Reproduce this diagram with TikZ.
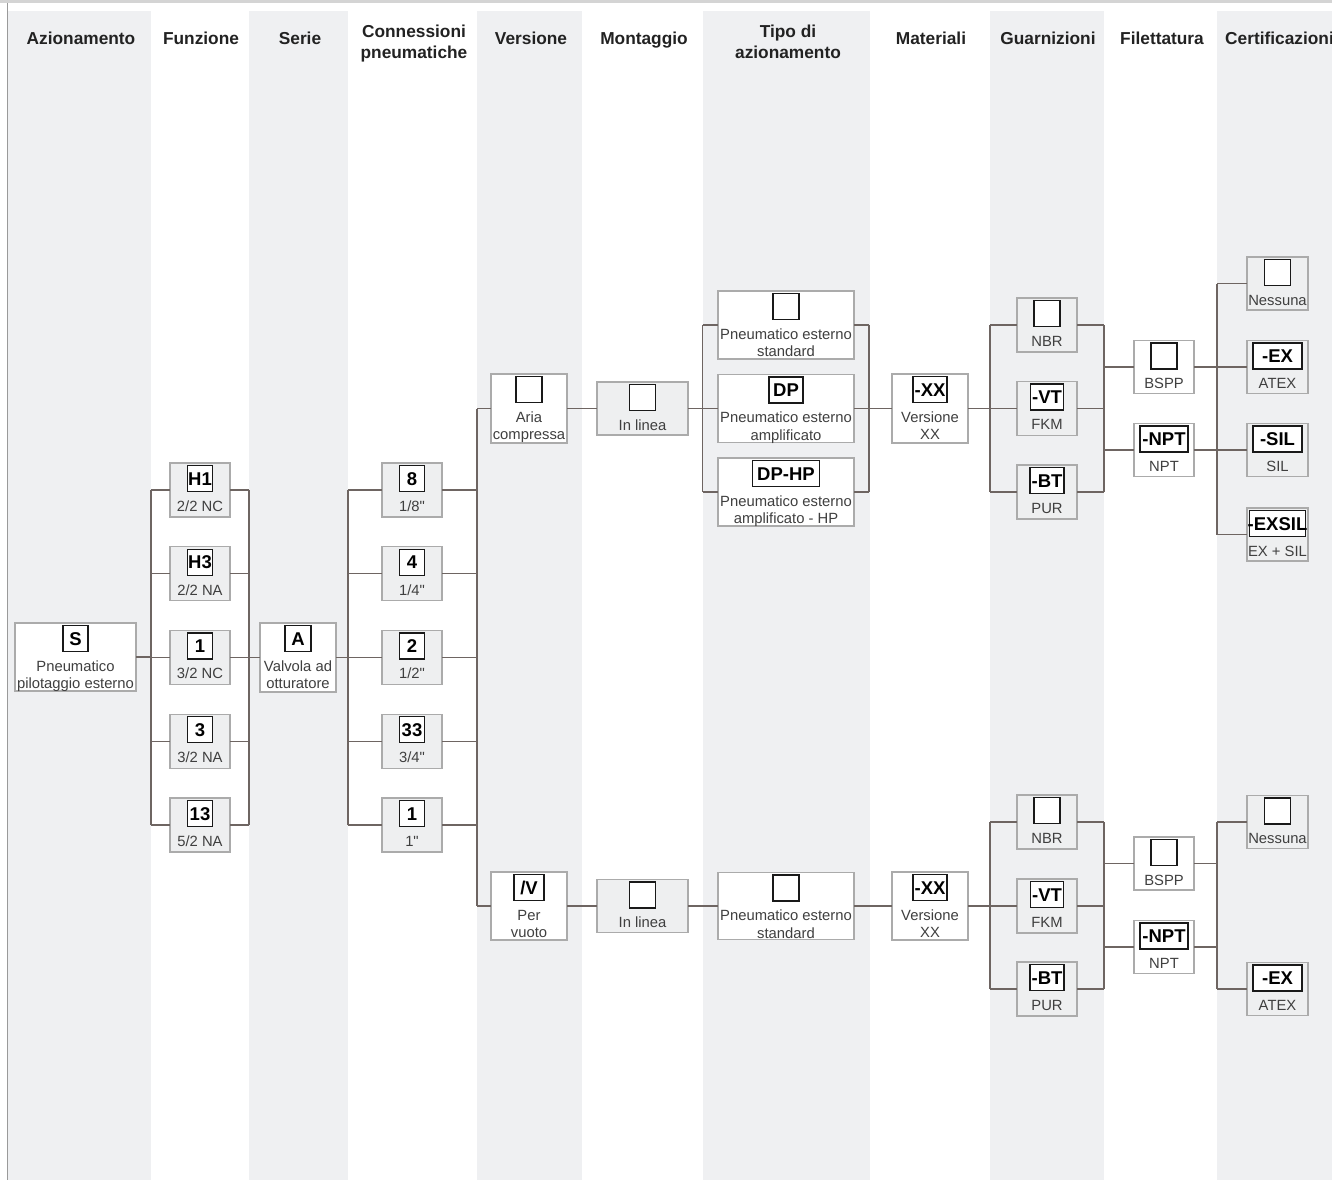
\documentclass[tikz,border=0pt]{standalone}
\usepackage{fontspec}
\setmainfont{Liberation Sans}
\newfontfamily\plainsans{Liberation Sans}
\definecolor{band}{HTML}{EFF0F2}
\definecolor{boxgray}{HTML}{EEEFF0}
\definecolor{boxline}{HTML}{ABABAB}
\definecolor{conncol}{HTML}{6E6562}
\definecolor{subtext}{HTML}{3F3F3F}
\definecolor{hdrtext}{HTML}{222222}
\definecolor{topbar}{HTML}{D4D4D4}
\definecolor{leftline}{HTML}{9A9A9A}
\tikzset{
  box/.style={draw=boxline,line width=1.1pt,outer sep=0pt,inner sep=0pt},
  wbox/.style={fill=white},
  gbox/.style={fill=boxgray},
  codebox/.style={draw=black!90,line width=1.3pt,fill=white,minimum height=26pt,inner xsep=0pt,inner ysep=0pt,outer sep=0pt,text height=13.3pt,text depth=0pt,font=\fontsize{18.5}{20}\selectfont\bfseries,text=black},
  sublabel/.style={inner sep=0pt,align=center,font=\plainsans\fontsize{14.8}{17.5}\selectfont,text=subtext},
  hdr/.style={inner sep=0pt,align=center,font=\fontsize{17.3}{21}\selectfont\bfseries,text=hdrtext},
  conn/.style={draw=conncol,line width=1.3pt},
}
% #1 name, #2 cx, #3 cy, #4 w, #5 h, #6 fill style, #7 code box width, #8 code, #9 label
\newcommand\optbox[9]{%
  \node[box,#6,minimum width=#4pt,minimum height=#5pt] (#1) at (#2,#3) {};
  \node[codebox,minimum width=#7pt,anchor=north] (#1c) at ([yshift=-2.5pt]#1.north) {\makebox[0pt]{#8}};
  \node[sublabel,anchor=north] (#1l) at ([yshift=-7.5pt]#1c.south) {\strut #9};
}
\begin{document}
\begin{tikzpicture}[x=1pt,y=-1pt]
\useasboundingbox (0,0) rectangle (1332,1180);
% background bands
\fill[topbar] (0,0) rectangle (1332,3);
\foreach \a/\b in {8/151,249/348,477/582,703/870,990/1104,1217/1332}
  \fill[band] (\a,11) rectangle (\b,1180);
\draw[leftline,line width=1.2pt] (7.5,3) -- (7.5,1180);
% headers
\node[hdr,anchor=north] (hA) at (81,29.8) {\strut Azionamento};
\node[hdr,anchor=north] (hF) at (201,29.8) {\strut Funzione};
\node[hdr,anchor=north] (hS) at (300,29.8) {\strut Serie};
\node[hdr,anchor=north] (hC) at (414,22.8) {\strut Connessioni\\pneumatiche};
\node[hdr,anchor=north] (hV) at (531,29.8) {\strut Versione};
\node[hdr,anchor=north] (hM) at (644,29.8) {\strut Montaggio};
\node[hdr,anchor=north] (hT) at (788,22.8) {\strut Tipo di\\azionamento};
\node[hdr,anchor=north] (hX) at (931,29.8) {\strut Materiali};
\node[hdr,anchor=north] (hG) at (1048,29.8) {\strut Guarnizioni};
\node[hdr,anchor=north] (hL) at (1162,29.8) {\strut Filettatura};
\node[hdr,anchor=north west] (hK) at (1225,29.8) {\strut Certificazioni};
% boxes
\optbox{S}{75.5}{657}{121}{68}{wbox}{25}{S}{Pneumatico\\pilotaggio esterno}
\optbox{F1}{200}{490}{60}{54}{gbox}{25}{H1}{2/2 NC}
\optbox{F2}{200}{573.75}{60}{54}{gbox}{25}{H3}{2/2 NA}
\optbox{F3}{200}{657.5}{60}{54}{gbox}{25}{1}{3/2 NC}
\optbox{F4}{200}{741.25}{60}{54}{gbox}{25}{3}{3/2 NA}
\optbox{F5}{200}{825}{60}{54}{gbox}{25}{13}{5/2 NA}
\optbox{A}{298}{657.5}{76}{69}{wbox}{26}{A}{Valvola ad\\otturatore}
\optbox{C1}{412}{490}{60}{54}{gbox}{25}{8}{1/8"}
\optbox{C2}{412}{573.75}{60}{54}{gbox}{25}{4}{1/4"}
\optbox{C3}{412}{657.5}{60}{54}{gbox}{25}{2}{1/2"}
\optbox{C4}{412}{741.25}{60}{54}{gbox}{25}{33}{3/4"}
\optbox{C5}{412}{825}{60}{54}{gbox}{25}{1}{1"}
\optbox{V1}{529}{408.5}{76}{69}{wbox}{26}{}{Aria\\compressa}
\optbox{V2}{529}{906}{76}{68}{wbox}{30}{/V}{Per\\vuoto}
\optbox{M1}{642.5}{408.5}{91}{53}{gbox}{26}{}{In linea}
\optbox{M2}{642.5}{906}{91}{53}{gbox}{26}{}{In linea}
\optbox{T1}{786}{325}{136}{68}{wbox}{26}{}{Pneumatico esterno\\standard}
\optbox{T2}{786}{408.5}{136}{68}{wbox}{34}{DP}{Pneumatico esterno\\amplificato}
\optbox{T3}{786}{492}{136}{68}{wbox}{67}{DP-HP}{Pneumatico esterno\\amplificato - HP}
\optbox{T4}{786}{906}{136}{67}{wbox}{26}{}{Pneumatico esterno\\standard}
\optbox{X1}{930}{408.5}{76}{69}{wbox}{34}{-XX}{Versione\\XX}
\optbox{X2}{930}{906}{76}{68}{wbox}{34}{-XX}{Versione\\XX}
\optbox{G1}{1047}{325}{60}{54}{gbox}{26}{}{NBR}
\optbox{G2}{1047}{408.5}{60}{54}{gbox}{33}{-VT}{FKM}
\optbox{G3}{1047}{492}{60}{54}{gbox}{34}{-BT}{PUR}
\optbox{G4}{1047}{822}{60}{54}{gbox}{26}{}{NBR}
\optbox{G5}{1047}{906}{60}{54}{gbox}{33}{-VT}{FKM}
\optbox{G6}{1047}{989}{60}{54}{gbox}{34}{-BT}{PUR}
\optbox{L1}{1164}{367}{60}{53}{wbox}{26}{}{BSPP}
\optbox{L2}{1164}{450}{60}{53}{wbox}{48}{-NPT}{NPT}
\optbox{L3}{1164}{863.5}{60}{53}{wbox}{26}{}{BSPP}
\optbox{L4}{1164}{947}{60}{53}{wbox}{48}{-NPT}{NPT}
\optbox{K1}{1277.5}{283.5}{61}{53}{gbox}{26}{}{Nessuna}
\optbox{K2}{1277.5}{367}{61}{53}{gbox}{49}{-EX}{ATEX}
\optbox{K3}{1277.5}{450}{61}{53}{gbox}{49}{-SIL}{SIL}
\optbox{K4}{1277.5}{534.5}{61}{53}{gbox}{56}{-EXSIL}{EX + SIL}
\optbox{K5}{1277.5}{822}{61}{53}{gbox}{26}{}{Nessuna}
\optbox{K6}{1277.5}{989}{61}{53}{gbox}{49}{-EX}{ATEX}
% bus coordinates
\coordinate (bF1) at (151,0);
\coordinate (bF2) at (249,0);
\coordinate (bC1) at (348,0);
\coordinate (bC2) at (477,0);
\coordinate (bT1) at (702.5,0);
\coordinate (bT2) at (869,0);
\coordinate (bG1) at (990,0);
\coordinate (bG2) at (1104,0);
\coordinate (bK) at (1217,0);
% connectors: Azionamento -> Funzione -> Serie
\draw[conn] (S.east) -- (S.east -| bF1);
\draw[conn] (F1.west -| bF1) -- (F5.west -| bF1);
\draw[conn] (F1.east -| bF2) -- (F5.east -| bF2);
\foreach \i in {1,...,5}{
  \draw[conn] (F\i.west -| bF1) -- (F\i.west);
  \draw[conn] (F\i.east) -- (F\i.east -| bF2);
}
\draw[conn] (A.west -| bF2) -- (A.west);
\draw[conn] (A.east) -- (A.east -| bC1);
% Connessioni
\draw[conn] (C1.west -| bC1) -- (C5.west -| bC1);
\draw[conn] (C1.east -| bC2) -- (C5.east -| bC2);
\foreach \i in {1,...,5}{
  \draw[conn] (C\i.west -| bC1) -- (C\i.west);
  \draw[conn] (C\i.east) -- (C\i.east -| bC2);
}
% Versione
\draw[conn] (V1.west -| bC2) -- (V2.west -| bC2);
\draw[conn] (V1.west -| bC2) -- (V1.west);
\draw[conn] (V2.west -| bC2) -- (V2.west);
% upper branch
\draw[conn] (V1.east) -- (M1.west);
\draw[conn] (M1.east) -- (T2.west);
\draw[conn] (T1.west -| bT1) -- (T3.west -| bT1);
\draw[conn] (T1.east -| bT2) -- (T3.east -| bT2);
\foreach \i in {1,3}{
  \draw[conn] (T\i.west -| bT1) -- (T\i.west);
}
\foreach \i in {1,2,3}{
  \draw[conn] (T\i.east) -- (T\i.east -| bT2);
}
\draw[conn] (X1.west -| bT2) -- (X1.west);
\draw[conn] (X1.east) -- (X1.east -| bG1);
\draw[conn] (G1.west -| bG1) -- (G3.west -| bG1);
\draw[conn] (G1.east -| bG2) -- (G3.east -| bG2);
\foreach \i in {1,2,3}{
  \draw[conn] (G\i.west -| bG1) -- (G\i.west);
  \draw[conn] (G\i.east) -- (G\i.east -| bG2);
}
\draw[conn] (L1.west -| bG2) -- (L1.west);
\draw[conn] (L2.west -| bG2) -- (L2.west);
\draw[conn] (L1.east) -- (L1.east -| bK);
\draw[conn] (L2.east) -- (L2.east -| bK);
\draw[conn] (K1.west -| bK) -- (K4.west -| bK);
\foreach \i in {1,2,3,4}{
  \draw[conn] (K\i.west -| bK) -- (K\i.west);
}
% lower branch
\draw[conn] (V2.east) -- (M2.west);
\draw[conn] (M2.east) -- (T4.west);
\draw[conn] (T4.east) -- (X2.west);
\draw[conn] (X2.east) -- (X2.east -| bG1);
\draw[conn] (G4.west -| bG1) -- (G6.west -| bG1);
\draw[conn] (G4.east -| bG2) -- (G6.east -| bG2);
\foreach \i in {4,5,6}{
  \draw[conn] (G\i.west -| bG1) -- (G\i.west);
  \draw[conn] (G\i.east) -- (G\i.east -| bG2);
}
\draw[conn] (L3.west -| bG2) -- (L3.west);
\draw[conn] (L4.west -| bG2) -- (L4.west);
\draw[conn] (L3.east) -- (L3.east -| bK);
\draw[conn] (L4.east) -- (L4.east -| bK);
\draw[conn] (K5.west -| bK) -- (K6.west -| bK);
\draw[conn] (K5.west -| bK) -- (K5.west);
\draw[conn] (K6.west -| bK) -- (K6.west);
\end{tikzpicture}
\end{document}
